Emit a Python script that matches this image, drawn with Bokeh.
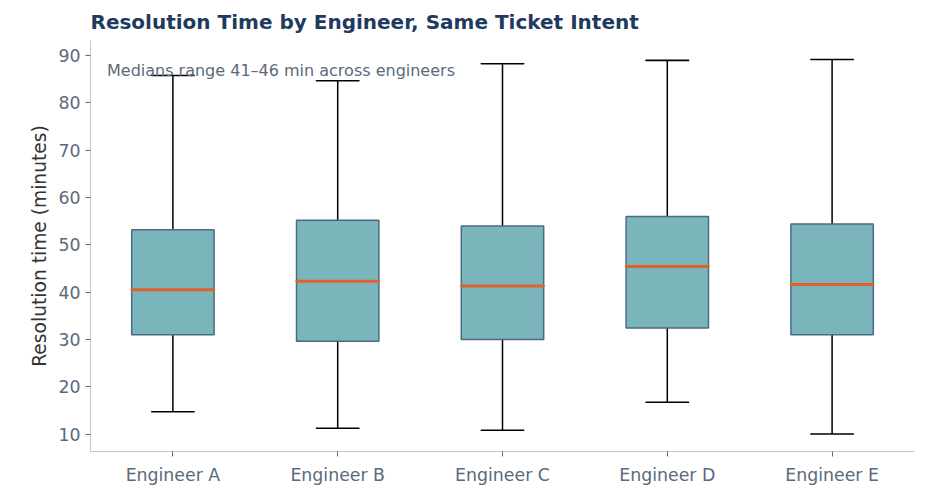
from bokeh.plotting import figure
from bokeh.models import ColumnDataSource, Label, Range1d
from bokeh.embed import file_html
from bokeh.resources import INLINE

engineers = ["Engineer A", "Engineer B", "Engineer C", "Engineer D", "Engineer E"]
lower = [14.7, 11.2, 10.8, 16.7, 10.0]
q1 = [31.0, 29.6, 30.0, 32.4, 31.0]
median = [40.5, 42.3, 41.3, 45.4, 41.6]
q3 = [53.2, 55.2, 54.0, 56.0, 54.4]
upper = [85.8, 84.7, 88.3, 89.0, 89.2]

src = ColumnDataSource(dict(x=engineers, lo=lower, q1=q1, med=median, q3=q3, hi=upper))

p = figure(width=929, height=487, x_range=engineers, y_range=Range1d(6.3, 93.2),
           output_backend="svg", toolbar_location=None,
           title="Resolution Time by Engineer, Same Ticket Intent")
p.title.text_font = "DejaVu Sans"
p.title.text_font_size = "15pt"
p.title.text_color = "#1f3a5f"
p.title.text_font_style = "bold"
p.title.standoff = 14
p.min_border_left = 90
p.min_border_right = 15
p.background_fill_color = "white"
p.outline_line_color = None
p.xgrid.grid_line_color = None
p.ygrid.grid_line_color = None

p.segment("x", "lo", "x", "q1", source=src, line_color="black", line_width=1.5)
p.segment("x", "q3", "x", "hi", source=src, line_color="black", line_width=1.5)
p.vbar(x="x", bottom="q1", top="q3", width=0.5, source=src,
       fill_color="#7ab5bc", line_color="#4d6a82", line_width=1.5)
p.rect(x="x", y="lo", width=0.26, height=0.01, source=src, line_color="black", line_width=1.5, fill_color=None)
p.rect(x="x", y="hi", width=0.26, height=0.01, source=src, line_color="black", line_width=1.5, fill_color=None)
p.rect(x="x", y="med", width=0.5, height=0.01, source=src, line_color="#e0622a", line_width=3, fill_color=None)

p.add_layout(Label(x=0.1, y=86.8, text_baseline="middle",
                   text="Medians range 41–46 min across engineers",
                   text_font="DejaVu Sans", text_font_size="12pt", text_color="#5a6a7a"))

p.yaxis.axis_label = "Resolution time (minutes)"
p.yaxis.axis_label_text_font = "DejaVu Sans"
p.yaxis.axis_label_text_font_style = "normal"
p.yaxis.axis_label_text_font_size = "14pt"
p.yaxis.axis_label_text_color = "#333333"
p.yaxis.ticker = [10, 20, 30, 40, 50, 60, 70, 80, 90]
for ax in (p.xaxis[0], p.yaxis[0]):
    ax.major_label_text_font = "DejaVu Sans"
    ax.major_label_text_font_size = "13pt"
    ax.major_label_text_color = "#5a6a7a"
    ax.axis_line_color = "#c0c8d0"
    ax.major_tick_line_color = "#5a6a7a"
    ax.minor_tick_line_color = None
    ax.major_tick_out = 5
    ax.major_tick_in = 0
p.xaxis.major_label_standoff = 8

open("out.html", "w").write(file_html(p, INLINE))
